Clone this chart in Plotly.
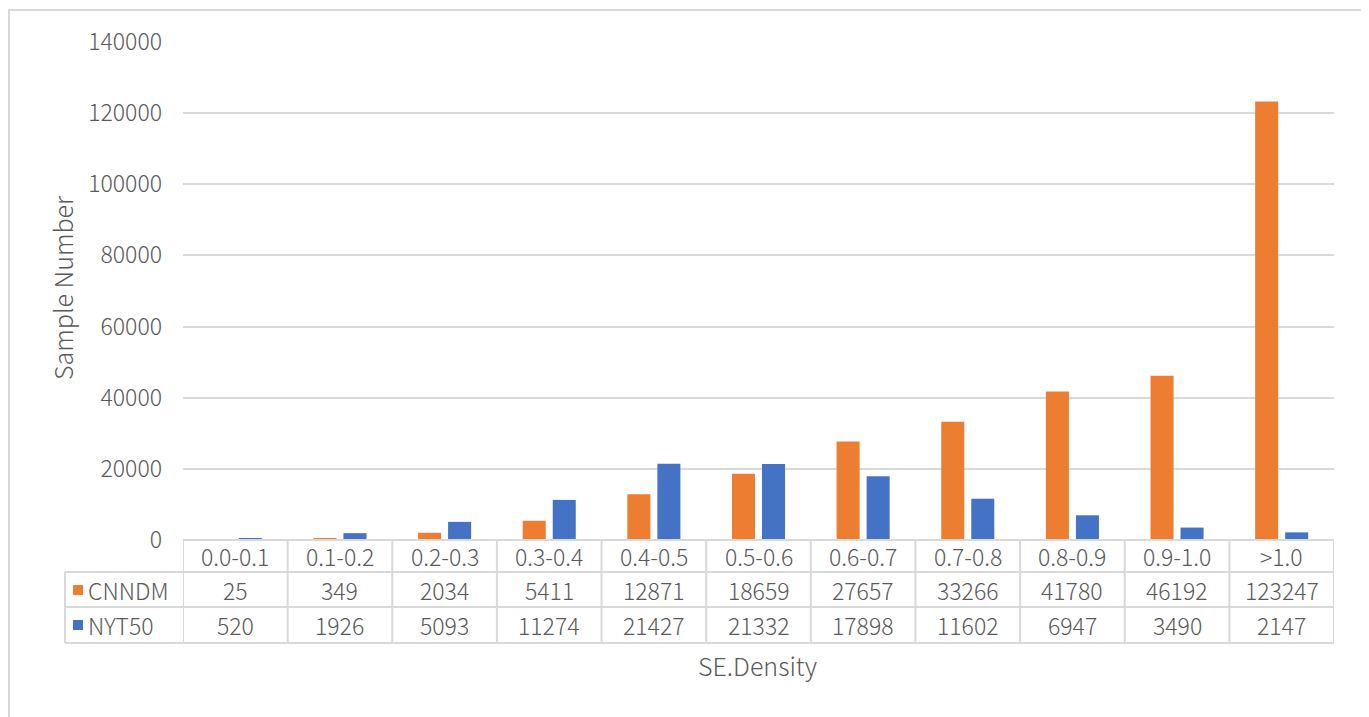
import plotly.graph_objects as go

categories = ["0.0-0.1", "0.1-0.2", "0.2-0.3", "0.3-0.4", "0.4-0.5", "0.5-0.6",
              "0.6-0.7", "0.7-0.8", "0.8-0.9", "0.9-1.0", ">1.0"]
cnndm = [25, 349, 2034, 5411, 12871, 18659, 27657, 33266, 41780, 46192, 123247]
nyt50 = [520, 1926, 5093, 11274, 21427, 21332, 17898, 11602, 6947, 3490, 2147]
series_names = ["CNNDM", "NYT50"]
series_colors = ["#ED7D31", "#4472C4"]
y_ticks = [0, 20000, 40000, 60000, 80000, 100000, 120000, 140000]
y_tick_text = [str(v) for v in y_ticks]

OFF = 8  # page body margin
W, H = 1369 - OFF, 717 - OFF
L, R, T, B = 183, 1334, 42, 540
pw, ph = R - L, B - T

def px(x):
    return (x - L) / pw

def py(y):
    return (B - y) / ph

FONT = "Noto Sans CJK SC"
WT = 300
TXT = "#595959"
GRID = "#D9D9D9"
FS = 23
FS_T = 25

idx = list(range(len(categories)))
fig = go.Figure()
for name, vals, col in zip(series_names, [cnndm, nyt50], series_colors):
    fig.add_trace(go.Bar(x=idx, y=vals, name=name, marker_color=col,
                         marker_line_width=0, showlegend=False))

shapes = []
annotations = []
# outer border
shapes.append(dict(type="rect", xref="paper", yref="paper", x0=px(9), x1=px(1363),
                   y0=py(760), y1=py(10), line=dict(color=GRID, width=2), layer="below"))
# table horizontal lines
row_y = [540, 572, 607, 643]
shapes.append(dict(type="line", xref="paper", yref="paper", x0=0, x1=1, y0=py(540), y1=py(540),
                   line=dict(color=GRID, width=2)))
for yy in row_y[1:]:
    shapes.append(dict(type="line", xref="paper", yref="paper", x0=px(65), x1=1,
                       y0=py(yy), y1=py(yy), line=dict(color=GRID, width=2)))
# vertical lines
for k in range(len(categories) + 1):
    shapes.append(dict(type="line", xref="x", yref="paper", x0=k - 0.5, x1=k - 0.5,
                       y0=py(643), y1=py(540), line=dict(color=GRID, width=2)))
shapes.append(dict(type="line", xref="paper", yref="paper", x0=px(65), x1=px(65),
                   y0=py(643), y1=py(572), line=dict(color=GRID, width=2)))

font = dict(family=FONT, size=FS, color=TXT, weight=WT)
tfont = dict(family=FONT, size=FS_T, color=TXT, weight=WT)
row_centers = [556, 590, 625]
for i, c in enumerate(categories):
    annotations.append(dict(x=i, y=py(row_centers[0]), xref="x", yref="paper", text=c,
                            showarrow=False, font=font, xanchor="center", yanchor="middle"))
    annotations.append(dict(x=i, y=py(row_centers[1]), xref="x", yref="paper", text=str(cnndm[i]),
                            showarrow=False, font=font, xanchor="center", yanchor="middle"))
    annotations.append(dict(x=i, y=py(row_centers[2]), xref="x", yref="paper", text=str(nyt50[i]),
                            showarrow=False, font=font, xanchor="center", yanchor="middle"))
for j, (name, col) in enumerate(zip(series_names, series_colors)):
    yc = row_centers[j + 1]
    shapes.append(dict(type="rect", xref="paper", yref="paper", x0=px(73), x1=px(83),
                       y0=py(yc + 5), y1=py(yc - 5), fillcolor=col, line=dict(width=0)))
    annotations.append(dict(x=px(86), y=py(yc), xref="paper", yref="paper", text=name,
                            showarrow=False, font=font, xanchor="left", yanchor="middle"))

annotations.append(dict(x=px(62), y=py(288), xref="paper", yref="paper", text="Sample Number",
                        textangle=-90, showarrow=False, font=tfont, xanchor="center", yanchor="middle"))
annotations.append(dict(x=px(757), y=py(665), xref="paper", yref="paper", text="SE.Density",
                        showarrow=False, font=tfont, xanchor="center", yanchor="middle"))

fig.update_layout(
    width=W, height=H,
    margin=dict(l=L - OFF, r=W + OFF - R, t=T - OFF, b=H + OFF - B, pad=0),
    paper_bgcolor="white", plot_bgcolor="white",
    barmode="group", bargap=0.426, bargroupgap=0.233,
    font=dict(family=FONT, size=FS, color=TXT, weight=WT),
    xaxis=dict(range=[-0.5, len(categories) - 0.5], showticklabels=False, showgrid=False,
               zeroline=False, showline=False, ticks=""),
    yaxis=dict(range=[0, 140000], tickvals=y_ticks, ticktext=y_tick_text, showgrid=True,
               gridcolor=GRID, gridwidth=2,
               zeroline=False, showline=False, ticks="", ticklabelstandoff=20,
               tickfont=dict(family=FONT, size=FS, color=TXT, weight=WT)),
    shapes=shapes, annotations=annotations,
)
fig.write_html("out.html", config={"displayModeBar": False})
